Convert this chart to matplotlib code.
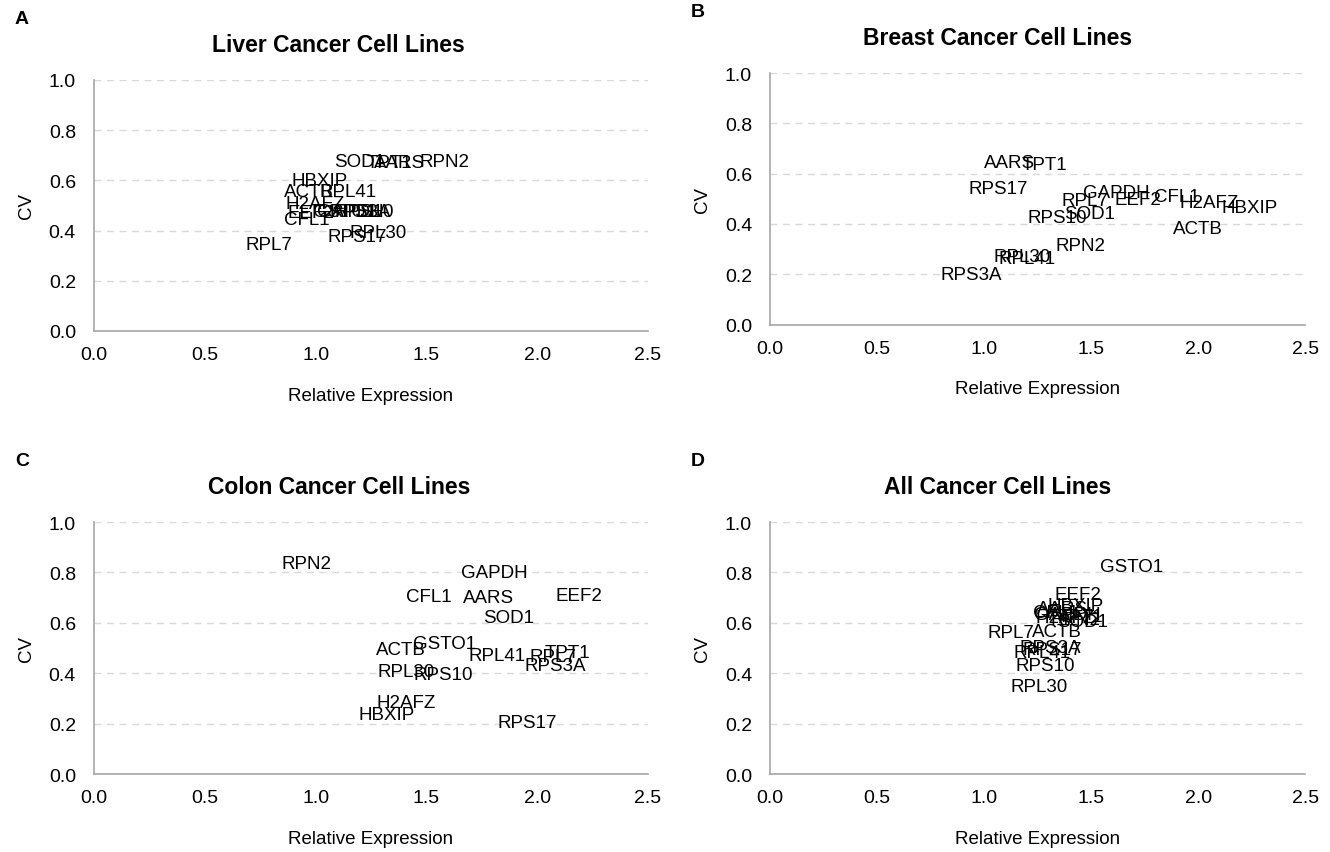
import matplotlib
matplotlib.use('Agg')
import matplotlib.pyplot as plt

plt.rcParams['font.family'] = ['Liberation Sans', 'DejaVu Sans']

# Liver
liver_genes = ['SOD1', 'TPT1', 'AARS', 'RPN2', 'HBXIP', 'ACTB', 'RPL41', 'H2AFZ', 'EEF2', 'CFL1',
               'GAPDH', 'GSTO1', 'RPS3A', 'RPS10', 'RPL30', 'RPS17', 'RPL7']
liver_x = [1.20, 1.335, 1.38, 1.58, 1.02, 0.97, 1.146, 1.0, 0.98, 0.96,
           1.155, 1.13, 1.20, 1.22, 1.28, 1.19, 0.79]
liver_y = [0.677, 0.67, 0.67, 0.677, 0.60, 0.554, 0.554, 0.506, 0.47, 0.446,
           0.474, 0.474, 0.476, 0.474, 0.394, 0.378, 0.343]

# Breast
breast_genes = ['AARS', 'TPT1', 'RPS17', 'GAPDH', 'RPL7', 'EEF2', 'CFL1', 'H2AFZ', 'HBXIP', 'SOD1',
                'RPS10', 'ACTB', 'RPN2', 'RPL30', 'RPL41', 'RPS3A']
breast_x = [1.12, 1.28, 1.065, 1.62, 1.47, 1.72, 1.90, 2.05, 2.24, 1.495,
            1.34, 2.0, 1.45, 1.18, 1.20, 0.94]
breast_y = [0.645, 0.637, 0.54, 0.526, 0.494, 0.498, 0.51, 0.486, 0.466, 0.44,
            0.427, 0.383, 0.315, 0.272, 0.264, 0.20]

# Colon
colon_genes = ['RPN2', 'GAPDH', 'CFL1', 'AARS', 'EEF2', 'SOD1', 'GSTO1', 'ACTB', 'RPL41', 'TPT1',
               'RPL7', 'RPS3A', 'RPL30', 'RPS10', 'H2AFZ', 'HBXIP', 'RPS17']
colon_x = [0.96, 1.805, 1.51, 1.78, 2.19, 1.87, 1.58, 1.385, 1.82, 2.135,
           2.07, 2.08, 1.41, 1.575, 1.41, 1.32, 1.955]
colon_y = [0.837, 0.80, 0.706, 0.70, 0.71, 0.623, 0.52, 0.496, 0.472, 0.484,
           0.468, 0.429, 0.405, 0.397, 0.282, 0.238, 0.206]

# All
all_genes = ['GSTO1', 'EEF2', 'HBXIP', 'AARS', 'CFL1', 'GAPDH', 'TPT1', 'SOD1', 'RPN2', 'H2AFZ',
             'ACTB', 'RPL7', 'RPS3A', 'RPS17', 'RPL41', 'RPS10', 'RPL30']
all_x = [1.69, 1.44, 1.43, 1.365, 1.335, 1.39, 1.45, 1.46, 1.425, 1.38,
         1.34, 1.125, 1.31, 1.32, 1.27, 1.285, 1.257]
all_y = [0.825, 0.714, 0.667, 0.655, 0.643, 0.635, 0.627, 0.607, 0.615, 0.623,
         0.567, 0.563, 0.504, 0.496, 0.484, 0.429, 0.349]

panels = [
    ('A', 'Liver Cancer Cell Lines', liver_genes, liver_x, liver_y, [0.0707, 0.6108, 0.4165, 0.2943], 0.442),
    ('B', 'Breast Cancer Cell Lines', breast_genes, breast_x, breast_y, [0.579, 0.6184, 0.4023, 0.2948], 0.426),
    ('C', 'Colon Cancer Cell Lines', colon_genes, colon_x, colon_y, [0.0707, 0.0914, 0.4165, 0.2954], 0.442),
    ('D', 'All Cancer Cell Lines', all_genes, all_x, all_y, [0.579, 0.0914, 0.4023, 0.2954], 0.426),
]

fig = plt.figure(figsize=(13.3, 8.53), dpi=100)

for letter, title, genes, xs, ys, rect, tx in panels:
    ax = fig.add_axes(rect)
    ax.set_xlim(0, 2.5)
    ax.set_ylim(0, 1.0)
    ax.set_xticks([0.0, 0.5, 1.0, 1.5, 2.0, 2.5])
    ax.set_yticks([0.0, 0.2, 0.4, 0.6, 0.8, 1.0])
    ax.set_xticklabels(['0.0', '0.5', '1.0', '1.5', '2.0', '2.5'])
    ax.set_yticklabels(['0.0', '0.2', '0.4', '0.6', '0.8', '1.0'])
    ax.tick_params(length=0, labelsize=14, pad=11)
    ax.tick_params(axis='y', pad=13)
    ax.grid(axis='y', color='#d9d9d9', linestyle=(0, (5, 4)), linewidth=1)
    ax.set_axisbelow(True)
    for s in ['top', 'right']:
        ax.spines[s].set_visible(False)
    for s in ['left', 'bottom']:
        ax.spines[s].set_color('#a6a6a6')
        ax.spines[s].set_linewidth(1.2)
    # gene names drawn at (relative expression, CV)
    for g, x, y in zip(genes, xs, ys):
        ax.text(x, y, g, ha='center', va='center', fontsize=13.5, color='black')
    ax.set_xlabel('Relative Expression', fontsize=13.5, labelpad=17)
    ax.set_ylabel('CV', fontsize=13.5, labelpad=10)
    ax.set_title(title, fontsize=16.5, fontweight='bold', pad=21, x=tx)
    bb = ax.get_position()
    fig.text(bb.x0 - 0.0595, bb.y1 + 0.072, letter, fontsize=14, fontweight='bold', va='center', ha='left')

plt.savefig('out.png', dpi=100)
